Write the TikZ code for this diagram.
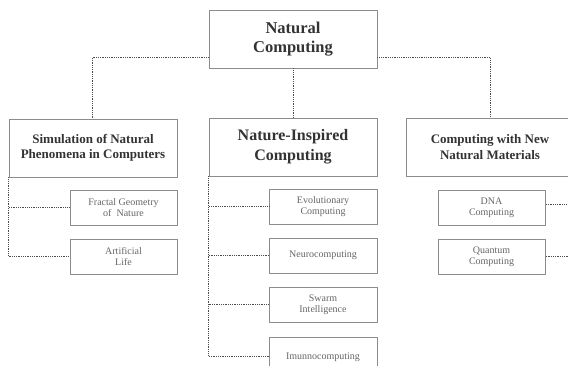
\documentclass[tikz,border=0pt]{standalone}
\usepackage{fontspec}
\setmainfont{Liberation Serif}
\begin{document}
\begin{tikzpicture}[x=1pt,y=-1pt,
  bigbox/.style={draw=black!45, line width=0.9pt, minimum width=168pt, minimum height=58pt, inner sep=0pt, align=center, text=black!80},
  smallbox/.style={draw=black!45, line width=0.9pt, minimum width=107pt, minimum height=35pt, inner sep=0pt, align=center, text=black!60, font=\fontsize{10}{11}\selectfont},
  conn/.style={draw=black!70, line width=0.8pt, densely dotted}]
\useasboundingbox (0,0) rectangle (568,365);
\clip (0,0) rectangle (568,365);
\fill[white] (0,0) rectangle (568,365);
% main boxes
\node[bigbox, font=\fontsize{16.5}{19}\selectfont\bfseries] (top) at (293,39) {Natural\\Computing};
\node[bigbox, font=\fontsize{13}{15.5}\selectfont\bfseries] (left) at (93,148) {Simulation of Natural\\Phenomena in Computers};
\node[bigbox, font=\fontsize{16}{20}\selectfont\bfseries] (mid) at (293,147) {Nature-Inspired\\Computing};
\node[bigbox, font=\fontsize{13}{15.5}\selectfont\bfseries] (right) at (490,147) {Computing with New\\Natural Materials};
% sub boxes
\node[smallbox] (frac) at (123.5,207.5) {Fractal Geometry\\of\ \ Nature};
\node[smallbox] (art) at (123.5,256.5) {Artificial\\Life};
\node[smallbox, minimum width=108pt] (evo) at (323,206.5) {Evolutionary\\Computing};
\node[smallbox, minimum width=108pt] (neu) at (323,255.5) {Neurocomputing};
\node[smallbox, minimum width=108pt] (swa) at (323,304.5) {Swarm\\Intelligence};
\node[smallbox, minimum width=108pt, minimum height=40pt] (imu) at (323,357.5) {Imunnocomputing};
\node[smallbox] (dna) at (491.5,207.5) {DNA\\Computing};
\node[smallbox] (qua) at (491.5,256.5) {Quantum\\Computing};
% connectors
\draw[conn] ([yshift=11pt]top.south west) -| ([xshift=-1pt]left.north);
\draw[conn] (top.south) -- (mid.north);
\draw[conn] ([yshift=11pt]top.south east) -| (right.north);
\draw[conn] (left.south west) |- (frac.west);
\draw[conn] (left.south west) |- (art.west);
\draw[conn] (mid.south west) |- (evo.west);
\draw[conn] (mid.south west) |- (neu.west);
\draw[conn] (mid.south west) |- (swa.west);
\draw[conn] (mid.south west) |- ([yshift=1.5pt]imu.west);
\draw[conn] (right.south east) |- ([yshift=3pt]dna.east);
\draw[conn] (right.south east) |- (qua.east);
\end{tikzpicture}
\end{document}
